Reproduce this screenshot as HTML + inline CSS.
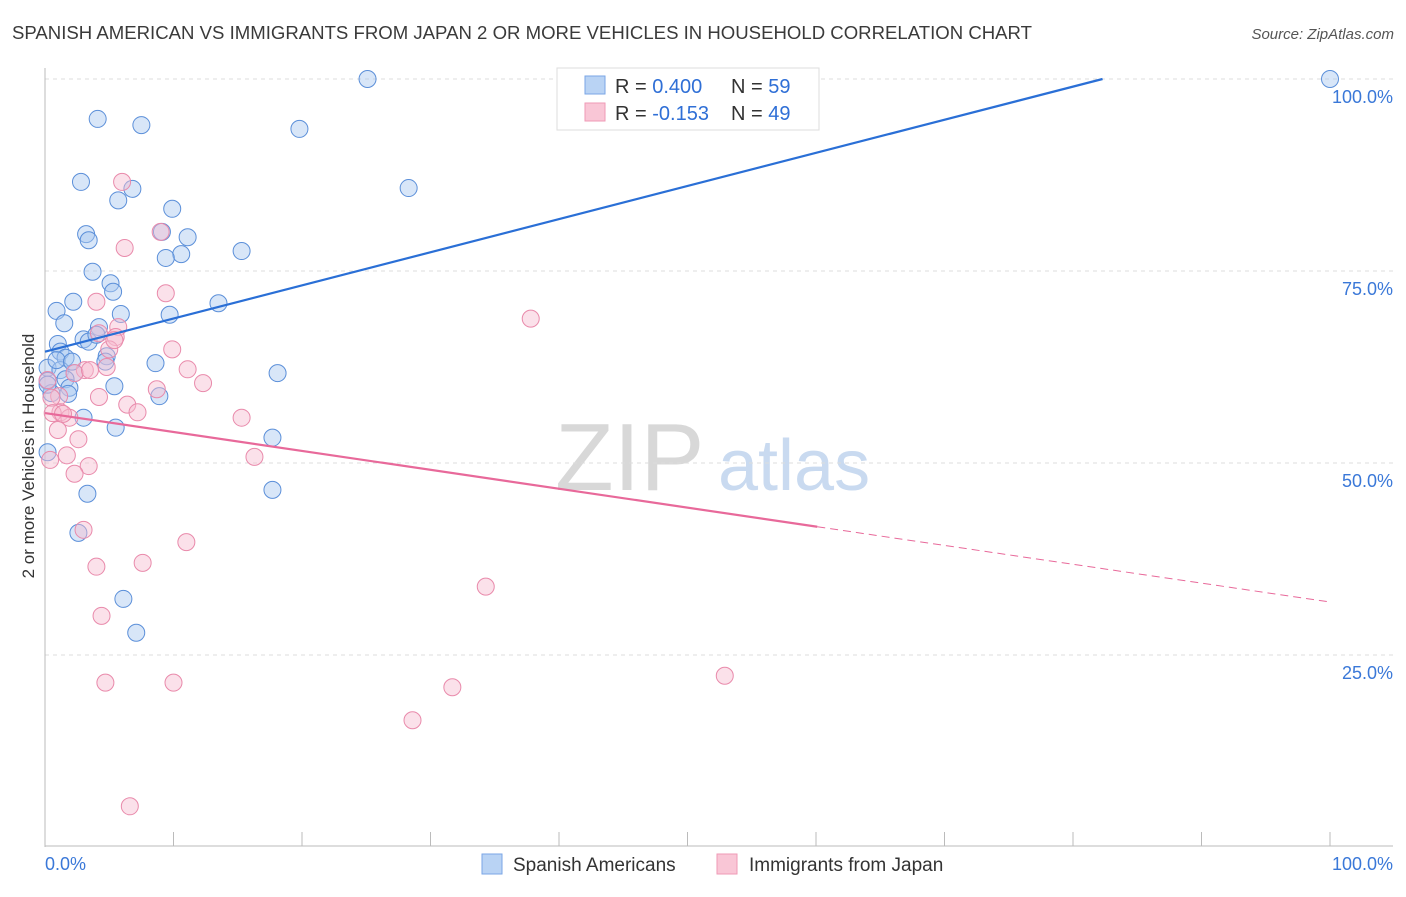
<!DOCTYPE html>
<html><head><meta charset="utf-8"><style>
body{margin:0;background:#fff;font-family:"Liberation Sans",sans-serif;}
svg text{font-family:"Liberation Sans",sans-serif;}
</style></head><body>
<svg id="chart" width="1406" height="892" xmlns="http://www.w3.org/2000/svg">
<text x="12" y="39" font-size="18" fill="#3a3a3a" textLength="1020" lengthAdjust="spacingAndGlyphs">SPANISH AMERICAN VS IMMIGRANTS FROM JAPAN 2 OR MORE VEHICLES IN HOUSEHOLD CORRELATION CHART</text>
<text x="1394" y="39" font-size="15" fill="#555" font-style="italic" text-anchor="end">Source: ZipAtlas.com</text>
<g>
<text x="555" y="490" font-size="96" fill="#d8d8d8" font-family="Liberation Serif, serif">ZIP</text>
<text x="718" y="490" font-size="72" fill="#c9daf0">atlas</text>
</g>
<g id="grid"></g>
<g id="axes"></g>
<g id="marks"></g>
<text transform="translate(34,456) rotate(-90)" font-size="17" fill="#333" text-anchor="middle">2 or more Vehicles in Household</text>
<g>
<rect x="557" y="68" width="262" height="62" fill="#fff" stroke="#ddd"/>
<rect x="585" y="76" width="20" height="18" fill="#b9d3f4" stroke="#7aa6e6"/>
<rect x="585" y="103" width="20" height="18" fill="#f9c6d6" stroke="#ef9ab6"/>
<text x="615" y="93" font-size="20" fill="#333">R = <tspan fill="#2f6fd6">0.400</tspan></text>
<text x="731" y="93" font-size="20" fill="#333">N = <tspan fill="#2f6fd6">59</tspan></text>
<text x="615" y="120" font-size="20" fill="#333">R = <tspan fill="#2f6fd6">-0.153</tspan></text>
<text x="731" y="120" font-size="20" fill="#333">N = <tspan fill="#2f6fd6">49</tspan></text>
</g>
<g>
<rect x="482" y="854" width="20" height="20" fill="#b9d3f4" stroke="#7aa6e6"/>
<text x="513" y="871" font-size="19" fill="#333">Spanish Americans</text>
<rect x="717" y="854" width="20" height="20" fill="#f9c6d6" stroke="#ef9ab6"/>
<text x="749" y="871" font-size="19" fill="#333">Immigrants from Japan</text>
</g>
</svg>
<script>
const yTicks=[100,75,50,25];
const yTickLabels=["100.0%","75.0%","50.0%","25.0%"];
const xTickLabels=["0.0%","100.0%"];
const blueX=[25.1,100,4.1,7.5,19.8,2.8,28.3,6.8,5.7,9.9,3.2,3.4,9.1,11.1,10.6,9.4,15.3,3.7,5.1,5.3,2.2,13.5,0.9,9.7,5.9,1.5,4.2,3.0,3.4,4.0,1.0,1.2,4.8,1.6,8.6,0.2,1.2,2.3,1.6,0.2,5.4,1.9,1.8,8.9,18.1,3.0,5.5,17.7,0.2,17.7,3.3,2.6,6.1,7.1,0.5,0.9,2.1,4.7,0.2];
const blueY=[100,100,94.8,94.0,93.5,86.6,85.8,85.7,84.2,83.1,79.8,79.0,80.1,79.4,77.2,76.7,77.6,74.9,73.4,72.3,71.0,70.8,69.8,69.3,69.4,68.2,67.7,66.1,65.8,66.7,65.5,64.5,63.9,63.7,63.0,62.4,62.1,61.7,60.9,60.7,60.0,59.8,59.0,58.7,61.7,55.9,54.6,53.3,51.4,46.5,46.0,40.9,32.3,27.9,59.1,63.4,63.2,63.2,60.2];
const pinkX=[6.0,6.2,9.0,9.4,4.0,5.7,5.5,5.0,4.2,9.9,4.8,11.1,12.3,3.1,2.3,8.7,4.2,6.4,7.2,1.1,0.5,1.2,1.9,15.3,1.0,2.6,1.7,16.3,0.4,3.4,2.3,3.0,4.0,7.6,11.0,37.8,34.3,4.4,4.7,10.0,31.7,52.9,28.6,6.6,0.6,1.4,0.2,5.4,3.5];
const pinkY=[86.6,78.0,80.1,72.1,71.0,67.7,66.4,64.8,66.9,64.8,62.5,62.2,60.4,62.1,61.7,59.6,58.6,57.6,56.6,58.7,58.5,56.6,55.9,55.9,54.3,53.1,51.0,50.8,50.4,49.6,48.6,41.3,36.5,37.0,39.7,68.8,33.9,30.1,21.4,21.4,20.8,22.3,16.5,5.3,56.5,56.4,60.8,66.0,62.1];
const blueTrend=[[0,64.5],[82.3,100]];
const pinkTrend=[[0,56.5],[60.1,41.7]];
const pinkTrendDash=[[60.1,41.7],[100,31.9]];

const X0=45,X1=1330,Y0=847,Y100=79;
const sx=v=>X0+(X1-X0)*v/100;
const sy=v=>Y0-(Y0-Y100)*v/100;
const NS="http://www.w3.org/2000/svg";
function mk(tag,attrs,parent){const e=document.createElementNS(NS,tag);for(const k in attrs)e.setAttribute(k,attrs[k]);parent.appendChild(e);return e;}
const grid=document.getElementById('grid'),axes=document.getElementById('axes'),marks=document.getElementById('marks');
yTicks.forEach((t,i)=>{
  const l=mk('line',{x1:X0,x2:1393,y1:sy(t),y2:sy(t),stroke:'#ddd','stroke-dasharray':'4,4'},grid);
  
  
  const tx=mk('text',{x:1393,y:sy(t)+24,'font-size':18,fill:'#3a78d8','text-anchor':'end'},axes);
  tx.textContent=yTickLabels[i];
  
  
});
const ya=mk('line',{x1:X0,x2:X0,y1:68,y2:847,stroke:'#bbb'},axes);


const xa=mk('line',{x1:X0,x2:1393,y1:846,y2:846,stroke:'#bbb'},axes);


for(let i=0;i<=10;i++){
  const t=mk('line',{x1:sx(i*10),x2:sx(i*10),y1:832,y2:846,stroke:'#bbb'},axes);
  
  
}
const xl0=mk('text',{x:X0,y:870,'font-size':18,fill:'#3a78d8'},axes);xl0.textContent=xTickLabels[0];


const xl1=mk('text',{x:1393,y:870,'font-size':18,fill:'#3a78d8','text-anchor':'end'},axes);xl1.textContent=xTickLabels[1];


function dots(xs,ys,fill,stroke,name){
  xs.forEach((x,i)=>{
    const c=mk('circle',{cx:sx(x),cy:sy(ys[i]),r:8.5,fill:fill,'fill-opacity':0.45,stroke:stroke,'stroke-width':1},marks);
    
    
  });
}
dots(blueX,blueY,'#a9c8f0','#5b8fd9','spanish-american-point');
dots(pinkX,pinkY,'#f7bcd0','#e98aab','japan-immigrant-point');
const bl=mk('line',{x1:sx(blueTrend[0][0]),y1:sy(blueTrend[0][1]),x2:sx(blueTrend[1][0]),y2:sy(blueTrend[1][1]),stroke:'#2a6fd6','stroke-width':2.2},marks);


const pl=mk('line',{x1:sx(pinkTrend[0][0]),y1:sy(pinkTrend[0][1]),x2:sx(pinkTrend[1][0]),y2:sy(pinkTrend[1][1]),stroke:'#e8699a','stroke-width':2.2},marks);


const pd=mk('line',{x1:sx(pinkTrendDash[0][0]),y1:sy(pinkTrendDash[0][1]),x2:sx(pinkTrendDash[1][0]),y2:sy(pinkTrendDash[1][1]),stroke:'#e8699a','stroke-width':1,'stroke-dasharray':'8,5'},marks);


</script>
</body></html>
